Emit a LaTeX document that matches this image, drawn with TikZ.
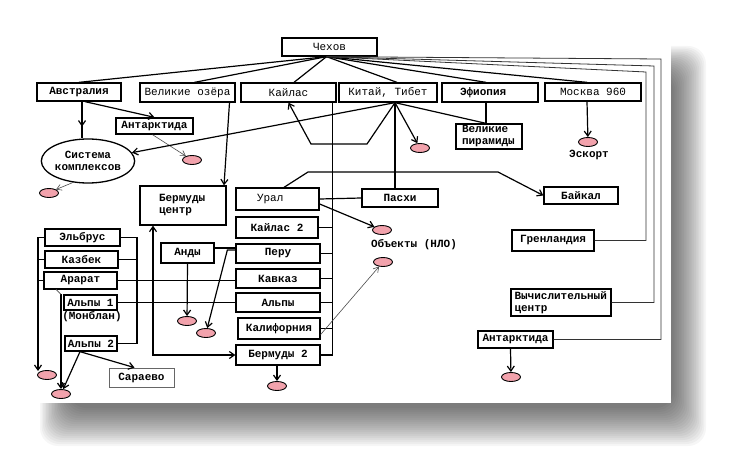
\documentclass[tikz,border=0pt]{standalone}
\usepackage{fontspec}
\setmainfont{Liberation Mono}
\usetikzlibrary{arrows.meta,shapes.geometric,decorations.markings}
\definecolor{pinkov}{RGB}{242,162,172}
\begin{document}
\begin{tikzpicture}[x=1pt,y=-1pt,
  boxr/.style={draw, line width=1.3pt, inner sep=1pt, align=center, font=\fontsize{11}{12}\selectfont},
  boxb/.style={boxr, font=\fontsize{11}{12}\selectfont\bfseries},
  lbl/.style={inner sep=0pt, font=\fontsize{11}{12}\selectfont\bfseries},
  oval/.style={ellipse, draw, line width=0.9pt, fill=pinkov, minimum width=19pt, minimum height=9pt, inner sep=0pt},
  conn/.style={line width=1.2pt},
  arr/.style={conn, -{Straight Barb[length=5pt,width=7pt]}},
  thinarr/.style={line width=0.6pt, draw=black!70, -{Straight Barb[length=5pt,width=6pt]}},
  fanr/.style={line width=0.8pt, draw=black!80},
  midarr/.style={postaction={decorate}, decoration={markings, mark=at position 0.68 with {\arrow{Straight Barb[length=5pt,width=7pt]}}}}
]
\useasboundingbox (0,0) rectangle (733,468);
% shadow
\foreach \i in {0,...,19} {
  \fill[black, opacity=0.035, rounded corners=18] (40+1.5*\i,46+1.5*\i) rectangle (706-1.7*\i,446-2*\i);
}
\fill[white] (32,32) rectangle (671,403);

% boxes
\node[boxr, minimum width=95pt, minimum height=18pt] (chekhov) at (329.5,47) {Чехов};
\node[boxb, minimum width=84pt, minimum height=18pt] (aus) at (79,92) {Австралия};
\node[boxr, minimum width=95pt, minimum height=19pt] (lakes) at (187.5,92.5) {Великие озёра};
\node[boxr, minimum width=95pt, minimum height=19pt] (kailas) at (288.5,92.5) {Кайлас};
\node[boxr, minimum width=98pt, minimum height=19pt] (china) at (388,92.5) {Китай, Тибет};
\node[boxb, minimum width=96pt, minimum height=19pt, text width=60pt, align=left] (ethiopia) at (490,92.5) {Эфиопия};
\node[boxr, minimum width=96pt, minimum height=18pt] (moscow) at (593,92) {Москва 960};
\node[boxb, minimum width=77pt, minimum height=16pt] (antsmall) at (154.5,126) {Антарктида};
\node[ellipse, draw, line width=1.3pt, minimum width=88pt, minimum height=44pt, inner sep=0pt, align=center, font=\fontsize{11}{12}\selectfont\bfseries] (system) at (88,161) {Система\\комплексов};
\node[boxb, minimum width=66pt, minimum height=25pt, text width=54pt, align=left] (pyramids) at (489,136.5) {Великие\\пирамиды};
\node[boxb, minimum width=74pt, minimum height=17pt] (baikal) at (581,195.5) {Байкал};
\node[boxr, minimum width=83pt, minimum height=22pt, text width=41pt, align=left] (ural) at (277.5,199) {Урал};
\node[boxb, minimum width=76pt, minimum height=18pt] (paskhi) at (400,198) {Пасхи};
\node[boxb, minimum width=86pt, minimum height=39pt, text width=48pt, align=left] (bcenter) at (183,205.5) {Бермуды\\центр};
\node[boxb, minimum width=82pt, minimum height=21pt] (kailas2) at (277,227.5) {Кайлас 2};
\node[boxb, minimum width=82pt, minimum height=21pt] (greenland) at (553,240.5) {Гренландия};
\node[boxb, minimum width=75pt, minimum height=17pt] (elbrus) at (82.5,237.5) {Эльбрус};
\node[boxb, minimum width=73pt, minimum height=17pt] (kazbek) at (81.5,259.5) {Казбек};
\node[boxb, minimum width=73pt, minimum height=17pt] (ararat) at (80.5,280.5) {Арарат};
\node[boxb, minimum width=53pt, minimum height=20pt] (andy) at (187.5,253) {Анды};
\node[boxb, minimum width=84pt, minimum height=19pt] (peru) at (278,253.5) {Перу};
\node[boxb, minimum width=84pt, minimum height=19pt] (kavkaz) at (278,278.5) {Кавказ};
\node[boxb, minimum width=53pt, minimum height=15pt] (alps1) at (90.5,302.5) {Альпы 1};
\node[boxb, minimum width=84pt, minimum height=19pt] (alps) at (278,302.5) {Альпы};
\node[boxb, minimum width=82pt, minimum height=21pt] (calif) at (279,328.5) {Калифорния};
\node[boxb, minimum width=100pt, minimum height=27pt, text width=93pt, align=left] (vc) at (561,302.5) {Вычислительный\\центр};
\node[boxb, minimum width=52pt, minimum height=15pt] (alps2) at (91,343.5) {Альпы 2};
\node[boxb, minimum width=84pt, minimum height=20pt] (berm2) at (278,355) {Бермуды 2};
\node[boxb, minimum width=75pt, minimum height=17pt] (antright) at (515.5,339.5) {Антарктида};
\node[boxb, draw=black!60, line width=0.8pt, minimum width=65pt, minimum height=19pt] (sarajevo) at (141.5,377.5) {Сараево};

% labels
\node[lbl] (escort) at (589,155) {Эскорт};
\node[lbl] (ufo) at (414,245) {Объекты (НЛО)};
\node[lbl] (montblanc) at (92,317) {(Монблан)};

% pink ovals
\node[oval] (o_ant) at (192,160) {};
\node[oval] (o_sys) at (49,193) {};
\node[oval] (o_china) at (420,148) {};
\node[oval] (o_esc) at (588,142) {};
\node[oval] (o_ural) at (382,230) {};
\node[oval] (o_calif) at (383,262) {};
\node[oval] (o_andy) at (187,321) {};
\node[oval] (o_peru) at (206,333) {};
\node[oval] (o_ant2) at (511,377) {};
\node[oval] (o_bl1) at (47,375) {};
\node[oval] (o_bl2) at (61,394) {};
\node[oval] (o_b2) at (277,386) {};

% coordinates
\coordinate (chb) at ([xshift=-3pt]chekhov.south);
\coordinate (r1) at (646,72);
\coordinate (r2) at (654,66);
\coordinate (r3) at (661,59);
\coordinate (cp) at ([xshift=7pt]china.south);
\coordinate (pt) at ([xshift=-3pt]pyramids.north);
\coordinate (sptop) at ([xshift=-4pt]kailas.south east);
\coordinate (lx) at (137,0);
\coordinate (lvb) at (38,371);
\coordinate (a2b) at ([xshift=-11pt]alps2.south);
\coordinate (a1t) at (alps1.north west -| o_bl2.north);

% Chekhov fan
\draw[conn] (chb) -- (aus.north);
\draw[conn] (chb) -- ([xshift=7pt]lakes.north);
\draw[conn] (chb) -- ([xshift=5.5pt]kailas.north);
\draw[conn] (chb) -- ([xshift=9pt]china.north);
\draw[conn] (chb) -- ([xshift=-4pt]ethiopia.north);
\draw[conn] (chb) -- ([xshift=-6pt]moscow.north);
\draw[fanr] (chb) -- (r1) |- (greenland.east);
\draw[fanr] (chb) -- (r2) |- (vc.east);
\draw[fanr] (chb) -- (r3) |- (antright.east);

% Australia
\draw[conn, midarr] ([xshift=3pt]aus.south) -- ([xshift=3pt]aus.south |- system.north);
\draw[arr] ([xshift=6pt]aus.south) -- (antsmall.north);
\draw[thinarr] ([xshift=-2pt]antsmall.south) -- (o_ant);
\draw[thinarr] (system.235) -- (o_sys.north east);

% Great lakes
\draw[arr] ([xshift=42pt]lakes.south) -- ([xshift=41pt]bcenter.north);

% China
\draw[arr] (cp) -- (system);
\draw[arr] (cp) -- (367,144) -- (311,144) -- (kailas.south);
\draw[arr] (cp) -- (o_china);
\draw[conn] (cp) -- (cp |- paskhi.north);
\draw[conn] (cp) -- (pt);
\draw[conn] (pt |- ethiopia.south) -- (pt);

% Moscow
\draw[arr] ([xshift=-6pt]moscow.south) -- (o_esc);

% spine from Kailas
\draw[conn] (sptop) |- (berm2.east);
\foreach \n in {kailas2,peru,kavkaz,alps,calif}
  \draw[conn] (\n.east) -- (\n.east -| sptop);

% Ural
\draw[arr] ([xshift=6.5pt]ural.north) -- (308,172) -- (498,172) -- (baikal.west);
\draw[conn] (ural.east) -- (paskhi.west);
\draw[arr] ([yshift=-5pt]ural.east) -- (o_ural);
\draw[thinarr] ([yshift=-6pt]calif.east) -- (o_calif);

% Andes / Peru
\draw[conn] ([yshift=5pt]andy.east) -- ([yshift=5pt]andy.east -| peru.west);
\draw[arr] ([yshift=3.5pt]peru.west) -- ++(-8,0) -- (o_peru);
\draw[arr] (andy.south) -- (o_andy);

% left group
\draw[conn] (elbrus.east) -- (elbrus.east -| lx) |- (alps2.east);
\draw[conn] (kazbek.east) -- (kazbek.east -| lx);
\draw[conn] (ararat.east) -- (ararat.east -| kavkaz.west);
\draw[conn] (alps1.east) -- (alps1.east -| alps.west);
\draw[arr] (elbrus.west) -- (elbrus.west -| lvb) -- (lvb);
\draw[conn] (kazbek.west) -- (kazbek.west -| lvb);
\draw[conn] (ararat.west) -- (ararat.west -| lvb);
\draw[arr] (a1t) -- (o_bl2.north);
\draw[line width=0.6pt, draw=black!70] ([xshift=-5pt,yshift=5pt]a1t) -- (a1t);
\draw[arr] (a2b) -- (o_bl2);
\draw[arr] (a2b) -- ([xshift=-7pt]sarajevo.north);

% Bermuda centre
\draw[conn, {Straight Barb[length=5pt,width=7pt]}-{Straight Barb[length=5pt,width=7pt]}] ([xshift=-30pt]bcenter.south) |- (berm2.west);
\draw[arr] (berm2.south -| o_b2) -- (o_b2);

% Antarctica right
\draw[arr] ([xshift=-5pt]antright.south) -- (o_ant2);
\end{tikzpicture}
\end{document}
